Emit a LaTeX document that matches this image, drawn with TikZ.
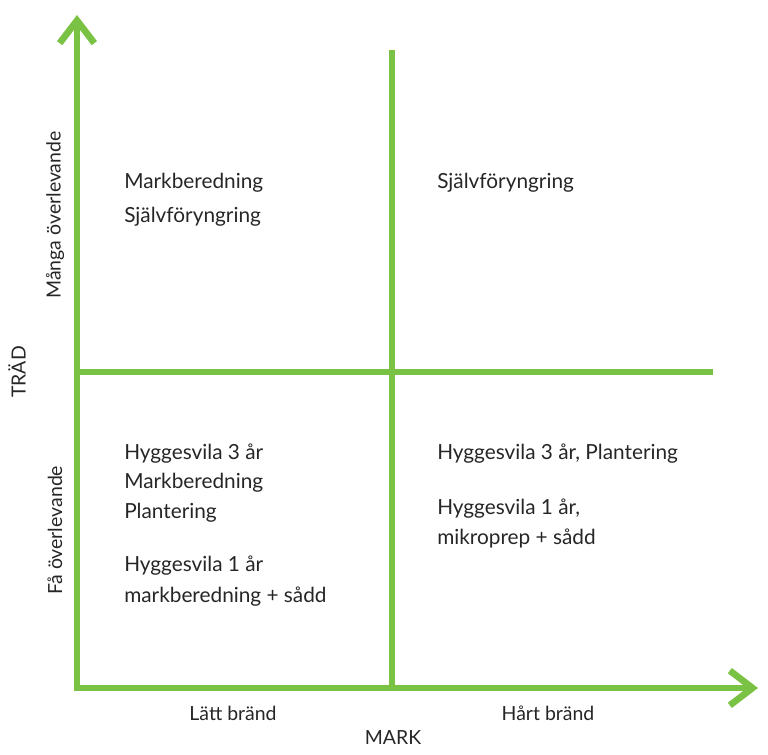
\documentclass[tikz,border=0pt]{standalone}
\usepackage{fontspec}
\setmainfont{Lato}
\usetikzlibrary{arrows.meta,positioning}

\definecolor{gron}{RGB}{122,194,67}

\begin{document}
\begin{tikzpicture}[x=0.75pt,y=-0.75pt,
  axel/.style={draw=gron,line width=5.2pt,-{Straight Barb[length=17pt,width=26pt,line width=5pt]}},
  linje/.style={draw=gron,line width=5.2pt},
  txt/.style={anchor=west,font=\fontsize{15.6}{18}\selectfont,text=black!85,inner sep=0pt},
  lbl/.style={font=\fontsize{14.6}{17}\selectfont,text=black!85,inner sep=0pt}]
\useasboundingbox (0,0) rectangle (768,755);
  \coordinate (O)  at (77,688);
  \coordinate (Y)  at (77,15);
  \coordinate (X)  at (758,688);
  \coordinate (MT) at (392,50);
  \coordinate (MB) at (392,688);
  \coordinate (HL) at (77,372);
  \coordinate (HR) at (713,372);
% axes and dividers
\draw[linje] (HL) -- (HR);
\draw[linje] (MT) -- (MB);
\draw[axel] ([yshift=-2.6pt]O) -- (Y);
\draw[axel] ([xshift=-2.6pt]O) -- (X);
% quadrant texts
  \node[txt] (q1a) at (124,183) {Markberedning};
  \node[txt] (q1b) at (124,217) {Självföryngring};
  \node[txt] (q2a) at (437,183) {Självföryngring};
  \node[txt] (q3a) at (124,454) {Hyggesvila 3 år};
  \node[txt] (q3b) at (124,483) {Markberedning};
  \node[txt] (q3c) at (124,513) {Plantering};
  \node[txt] (q3d) at (124,566) {Hyggesvila 1 år};
  \node[txt] (q3e) at (124,597) {markberedning + sådd};
  \node[txt] (q4a) at (437,454) {Hyggesvila 3 år, Plantering};
  \node[txt] (q4b) at (437,509) {Hyggesvila 1 år,};
  \node[txt] (q4c) at (437,538) {mikroprep + sådd};
% axis labels
  \node[lbl,rotate=90] (many) at (55,215) {Många överlevande};
  \node[lbl,rotate=90] (few)  at (55,530) {Få överlevande};
  \node[lbl,rotate=90] (trad) at (17,372) {TRÄD};
  \node[lbl] (latt) at (233,713) {Lätt bränd};
  \node[lbl] (hart) at (548,713) {Hårt bränd};
  \node[lbl] (mark) at (393,738) {MARK};
\end{tikzpicture}
\end{document}
